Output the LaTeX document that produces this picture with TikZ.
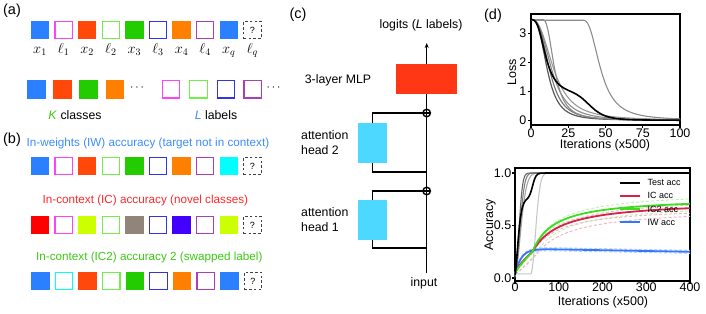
\documentclass[tikz,border=0pt]{standalone}
\usepackage{fontspec}
\setmainfont{Liberation Sans}
\usetikzlibrary{arrows.meta,backgrounds}
\definecolor{cblue}{RGB}{42,128,255}
\definecolor{cred}{RGB}{255,72,10}
\definecolor{cgreen}{RGB}{34,204,0}
\definecolor{corange}{RGB}{255,128,0}
\definecolor{cmag}{RGB}{255,64,255}
\definecolor{clgreen}{RGB}{110,240,70}
\definecolor{cdblue}{RGB}{50,50,230}
\definecolor{cpurp}{RGB}{170,60,190}
\definecolor{ccyan}{RGB}{0,255,255}
\definecolor{cpure}{RGB}{255,0,0}
\definecolor{cyg}{RGB}{204,255,0}
\definecolor{cbrown}{RGB}{145,132,120}
\definecolor{cviolet}{RGB}{68,0,255}
\definecolor{tblue}{RGB}{60,140,255}
\definecolor{tred}{RGB}{255,40,40}
\definecolor{tgreen}{RGB}{60,200,20}
\definecolor{attn}{RGB}{77,216,255}
\definecolor{mlpred}{RGB}{255,55,20}
\definecolor{icred}{RGB}{215,35,75}
\definecolor{icgreen}{RGB}{60,220,30}
\definecolor{iwblue}{RGB}{50,120,255}
\tikzset{
  every node/.style={inner sep=0pt},
  fsq/.style={fill=#1, minimum size=18.5pt},
  osq/.style={draw=#1, fill=white, line width=1.2pt, minimum size=17.3pt},
  qsq/.style={draw=black!75, line width=0.9pt, dash pattern=on 2.6pt off 2.2pt, minimum size=17.3pt, font=\fontsize{9}{9}\selectfont},
  lbl/.style={font=\fontsize{14.5}{16}\selectfont},
  txt/.style={font=\fontsize{12.3}{15}\selectfont},
  btxt/.style={font=\fontsize{11.7}{13}\selectfont, anchor=west},
  mlab/.style={anchor=base},
  attnbox/.style={fill=attn, minimum width=29pt, minimum height=40pt},
  mlpbox/.style={fill=mlpred, minimum width=61pt, minimum height=30pt},
  plusnode/.style={circle, draw, fill=white, line width=1.4pt, minimum size=7.5pt},
  cline/.style={line width=1.2pt},
  axisline/.style={line width=1.1pt},
  tick/.style={font=\fontsize{12.5}{14}\selectfont},
  legtext/.style={font=\fontsize{9}{10}\selectfont, anchor=west},
  legline/.style={line width=2.2pt},
}
\begin{document}
\begin{tikzpicture}[x=1pt,y=-1pt]
\useasboundingbox (0,0) rectangle (706,313);
% ---------------- (a)
\node[lbl] (la) at (12,11) {(a)};
\foreach \k/\c [count=\i] in {f/cblue,o/cmag,f/cred,o/clgreen,f/cgreen,o/cdblue,f/corange,o/cpurp,f/cblue}{
  \if\k f\node[fsq=\c] (a\i) at ({16.4+23.6*\i},30) {};\else\node[osq=\c] (a\i) at ({16.4+23.6*\i},30) {};\fi
}
\node[qsq] (a10) at (252.4,30) {?};
\foreach \t [count=\i] in {x_1,\ell_1,x_2,\ell_2,x_3,\ell_3,x_4,\ell_4,x_q,\ell_q}{
  \node[mlab] (xl\i) at ({16.4+23.6*\i},53.3) {\fontsize{14.4}{16}\selectfont$\t$};
}
\node[fsq=cblue] (k1) at (36.5,89.3) {};
\node[fsq=cred] (k2) at (62.5,89.3) {};
\node[fsq=cgreen] (k3) at (88.5,89.3) {};
\node[fsq=corange] (k4) at (115,89.3) {};
\node[txt] (kdots) at (137,88) {$\cdots$};
\node[osq=cmag] (m1) at (171.2,89.3) {};
\node[osq=clgreen] (m2) at (198.5,89.3) {};
\node[osq=cdblue] (m3) at (225.8,89.3) {};
\node[osq=cpurp] (m4) at (252.7,89.3) {};
\node[txt] (mdots) at (273.5,88) {$\cdots$};
\node[txt] (kcl) at (75,115) {\textcolor{tgreen}{\textit{K}} classes};
\node[txt] (lcl) at (216,115) {\textcolor{tblue}{\textit{L}} labels};
% ---------------- (b)
\node[lbl] (lb) at (12,139.5) {(b)};
\node[btxt,text=tblue] (tb1) at (26.5,143.3) {In-weights (IW) accuracy (target not in context)};
\node[btxt,text=tred] (tb2) at (42.5,200) {In-context (IC) accuracy (novel classes)};
\node[btxt,text=tgreen] (tb3) at (36,257) {In-context (IC2) accuracy 2 (swapped label)};
\foreach \k/\c [count=\i] in {f/cblue,o/cmag,f/cred,o/clgreen,f/cgreen,o/cdblue,f/corange,o/cpurp,f/ccyan}{
  \if\k f\node[fsq=\c] (b\i) at ({16.4+23.6*\i},166) {};\else\node[osq=\c] (b\i) at ({16.4+23.6*\i},166) {};\fi
}
\node[qsq] (b10) at (252.4,166) {?};
\foreach \k/\c [count=\i] in {f/cpure,o/cmag,f/cyg,o/clgreen,f/cbrown,o/cdblue,f/cviolet,o/cpurp,f/cyg}{
  \if\k f\node[fsq=\c] (c\i) at ({16.4+23.6*\i},225) {};\else\node[osq=\c] (c\i) at ({16.4+23.6*\i},225) {};\fi
}
\node[qsq] (c10) at (252.4,225) {?};
\foreach \k/\c [count=\i] in {f/cblue,o/ccyan,f/cred,o/clgreen,f/cgreen,o/cdblue,f/corange,o/cpurp,f/cblue}{
  \if\k f\node[fsq=\c] (d\i) at ({16.9+23.6*\i},281) {};\else\node[osq=\c] (d\i) at ({16.9+23.6*\i},281) {};\fi
}
\node[qsq] (d10) at (252.9,281) {?};
% ---------------- (c)
\node[lbl] (lc) at (298,15) {(c)};
\node[txt] (logit) at (421,25) {logits (\textit{L} labels)};
\node[mlpbox] (mlp) at (426.7,79) {};
\node[txt] (mlptxt) at (338,80) {3-layer MLP};
\node[attnbox] (h2) at (372.5,143) {};
\node[attnbox] (h1) at (372.5,220) {};
\node[txt,align=left,anchor=west] (h2t) at (301,142.5) {attention\\head 2};
\node[txt,align=left,anchor=west] (h1t) at (301,219.5) {attention\\head 1};
\node[plusnode] (p1) at (426.7,113) {};
\node[plusnode] (p2) at (426.7,191) {};
\node[txt] (inp) at (424,283.5) {input};
\coordinate (j2) at (426.7,172);
\coordinate (j1) at (426.7,248);
\coordinate (bot) at (426.7,273);
\coordinate (top) at (426.7,43);
\begin{scope}[on background layer]
  \draw[cline] (bot) -- (p2.center) -- (p1.center) -- (mlp.center);
  \draw[cline,-{Stealth[length=5pt,width=4pt]}] (mlp.north) -- (top);
  \draw[cline] (p1) -| (h2) |- (j2);
  \draw[cline] (p2) -| (h1) |- (j1);
\end{scope}
\draw[line width=1.4pt] (p1.north) -- (p1.south) (p1.west) -- (p1.east);
\draw[line width=1.4pt] (p2.north) -- (p2.south) (p2.west) -- (p2.east);
% ---------------- (d) loss
\node[lbl] (ld) at (493,16) {(d)};
\draw[axisline] (531,14) rectangle (680,125);
\foreach \v in {0,1,2,3}{
  \draw[axisline] (531,{120.3-29*\v}) -- (528,{120.3-29*\v});
  \node[tick,anchor=east] at (526.5,{120.3-29*\v}) {\v};
}
\foreach \v in {0,25,50,75,100}{
  \draw[axisline] ({531+1.49*\v},125) -- ({531+1.49*\v},128);
  \node[tick] at ({531+1.49*\v},133) {\v};
}
\node[tick] (lossx) at (605,145.5) {Iterations (x500)};
\node[tick,rotate=90] (lossy) at (512,72) {Loss};
\begin{scope}[shift={(531pt,-120.3pt)},x=1.49pt,y=29pt]
  \draw[black!40,line width=1.1pt] (0,3.47) -- plot[domain=0.2:100,samples=100] (\x,{3.47/(1+(\x/15.5)^2.6)});
  \draw[black!45,line width=1.1pt] (0,3.47) -- plot[domain=0.2:100,samples=100] (\x,{3.47/(1+(\x/14)^2.8)});
  \draw[black!55,line width=1.1pt] (0,3.47) -- plot[domain=0.2:100,samples=100] (\x,{3.47/(1+(\x/12.5)^3)});
  \draw[black!65,line width=1.2pt] (0,3.47) -- plot[domain=0.2:100,samples=100] (\x,{3.47/(1+(\x/11)^3)});
  \draw[black!45,line width=1.1pt] (0,3.47) -- (8,3.47) -- plot[domain=8.2:100,samples=90] (\x,{3.47/(1+((\x-8)/8)^2.5)});
  \draw[black!45,line width=1.1pt] (0,3.45) -- (35,3.45) -- plot[domain=35.2:100,samples=70] (\x,{3.45/(1+((\x-35)/12)^2.5)});
  \draw[black,line width=1.6pt] (0,3.47) -- plot[domain=0.2:100,samples=120] (\x,{2.57/(1+(\x/10)^3)+0.9/(1+(\x/40)^8)});
\end{scope}
% ---------------- (d) accuracy
\draw[axisline] (515,168) rectangle (690,281);
\foreach \v/\l in {0/0.0,0.5/0.5,1/1.0}{
  \draw[axisline] (515,{278-105*\v}) -- (512,{278-105*\v});
  \node[tick,anchor=east] at (511.5,{278-105*\v}) {\l};
}
\foreach \v in {0,100,200,300,400}{
  \draw[axisline] ({515+0.4375*\v},281) -- ({515+0.4375*\v},284);
  \node[tick] at ({515+0.4375*\v},287.5) {\v};
}
\node[tick] (accx) at (603,302) {Iterations (x500)};
\node[tick,rotate=90] (accy) at (490,225) {Accuracy};
\begin{scope}[shift={(515pt,-278pt)},x=0.4375pt,y=105pt]
  % dashed spreads
  \begin{scope}[dash pattern=on 3pt off 2pt, line width=0.9pt]
    \draw[icgreen!35] (0,0.04) -- plot[domain=0.2:40,samples=20] (\x,{0.04+0.21*(\x/40)^0.8}) -- plot[domain=40:400,samples=60] (\x,{0.25+0.58*(\x-40)/(\x-40+55)});
    \draw[icgreen!35] (0,0.04) -- plot[domain=0.2:40,samples=20] (\x,{0.04+0.2*(\x/40)^0.9}) -- plot[domain=40:400,samples=60] (\x,{0.24+0.47*(\x-40)/(\x-40+45)});
    \draw[icgreen!35] (0,0.04) -- plot[domain=0.2:45,samples=20] (\x,{0.04+0.18*(\x/45)^1.2}) -- plot[domain=45:400,samples=60] (\x,{0.22+0.5*(\x-45)/(\x-45+70)});
    \draw[icred!35] (0,0.04) -- plot[domain=0.2:40,samples=20] (\x,{0.04+0.21*(\x/40)^0.7}) -- plot[domain=40:400,samples=60] (\x,{0.25+0.53*(\x-40)/(\x-40+70)});
    \draw[icred!35] (0,0.04) -- plot[domain=0.2:40,samples=20] (\x,{0.04+0.2*(\x/40)^0.8}) -- plot[domain=40:400,samples=60] (\x,{0.24+0.44*(\x-40)/(\x-40+60)});
    \draw[icred!35] (0,0.04) -- plot[domain=0.2:48,samples=20] (\x,{0.04+0.18*(\x/48)^1.2}) -- plot[domain=48:400,samples=60] (\x,{0.22+0.45*(\x-48)/(\x-48+80)});
    \draw[iwblue!35] (0,0.03) -- plot[domain=0.2:400,samples=80] (\x,{0.045+0.25*(1-exp(max(-9,0-\x/14)))-0.00008*\x});
    \draw[iwblue!35] (0,0.03) -- plot[domain=0.2:400,samples=80] (\x,{0.015+0.25*(1-exp(max(-9,0-\x/12)))-0.00008*\x});
    \draw[iwblue!35] (0,0.03) -- plot[domain=0.2:400,samples=80] (\x,{0.055+0.24*(1-exp(max(-9,0-\x/16)))-0.00009*\x});
  \end{scope}
  % test acc runs
  \draw[black!22,line width=1.1pt] (0,0.04) -- (36,0.04) -- plot[domain=36.5:100,samples=40] (\x,{0.04+0.96*(1-exp(max(-9,0-((\x-36)/15)^2)))}) -- (180,1);
  \draw[black!35,line width=1.1pt] (0,0.04) -- plot[domain=0.2:90,samples=60] (\x,{1-0.96*exp(max(-9,0-(\x/18)^1.8))});
  \draw[black!50,line width=1.1pt] (0,0.04) -- plot[domain=0.2:70,samples=60] (\x,{1-0.96*exp(max(-9,0-(\x/15)^2))});
  \draw[black!60,line width=1.1pt] (0,0.04) -- plot[domain=0.2:60,samples=60] (\x,{1-0.96*exp(max(-9,0-(\x/12)^2))});
  % main curves
  \draw[iwblue,line width=1.8pt] (0,0.03) -- plot[domain=0.2:400,samples=100] (\x,{0.03+0.25*(1-exp(max(-9,0-\x/14)))-0.00008*\x});
  \draw[icred,line width=1.8pt] (0,0.04) -- plot[domain=0.2:40,samples=25] (\x,{0.04+0.21*(\x/40)^0.7}) -- plot[domain=40:400,samples=80] (\x,{0.25+0.49*(\x-40)/(\x-40+65)});
  \draw[icgreen,line width=1.8pt] (0,0.04) -- plot[domain=0.2:40,samples=25] (\x,{0.04+0.21*(\x/40)^0.8}) -- plot[domain=40:400,samples=80] (\x,{0.25+0.52*(\x-40)/(\x-40+50)});
  \draw[black,line width=1.6pt] (0,0.03) -- plot[domain=0.2:80,samples=80] (\x,{0.03+0.72*(1-exp(max(-9,0-(\x/10)^1.5)))+0.25/(1+exp(min(9,max(-9,(40-\x)/4))))}) -- (400,1);
\end{scope}
% legend
\draw[legline,black] (620,182.7) -- (640,182.7);
\node[legtext] (lg1) at (647.5,182.7) {Test acc};
\draw[legline,icred] (620,195.7) -- (640,195.7);
\node[legtext] (lg2) at (647.5,195.7) {IC acc};
\draw[legline,icgreen] (620,209) -- (640,209);
\node[legtext] (lg3) at (647.5,209) {IC2 acc};
\draw[legline,iwblue] (620,222.3) -- (640,222.3);
\node[legtext] (lg4) at (647.5,222.3) {IW acc};
\end{tikzpicture}
\end{document}
